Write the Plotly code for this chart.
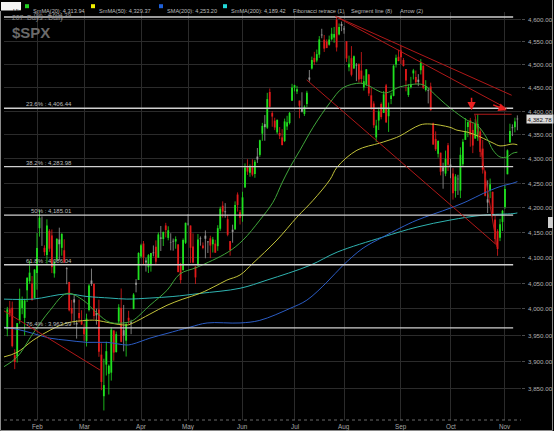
import math
import plotly.graph_objects as go

# ── data: $SPX daily, 207 sessions ─────────────────────────────────────────────
days = [
    "01-13", "01-17", "01-18", "01-19", "01-20", "01-23", "01-24", "01-25", "01-26", "01-27", "01-30", "01-31",
    "02-01", "02-02", "02-03", "02-06", "02-07", "02-08", "02-09", "02-10", "02-13", "02-14", "02-15", "02-16",
    "02-17", "02-21", "02-22", "02-23", "02-24", "02-27", "02-28",
    "03-01", "03-02", "03-03", "03-06", "03-07", "03-08", "03-09", "03-10", "03-13", "03-14", "03-15", "03-16",
    "03-17", "03-20", "03-21", "03-22", "03-23", "03-24", "03-27", "03-28", "03-29", "03-30", "03-31",
    "04-03", "04-04", "04-05", "04-06", "04-10", "04-11", "04-12", "04-13", "04-14", "04-17", "04-18", "04-19",
    "04-20", "04-21", "04-24", "04-25", "04-26", "04-27", "04-28",
    "05-01", "05-02", "05-03", "05-04", "05-05", "05-08", "05-09", "05-10", "05-11", "05-12", "05-15", "05-16",
    "05-17", "05-18", "05-19", "05-22", "05-23", "05-24", "05-25", "05-26", "05-30", "05-31",
    "06-01", "06-02", "06-05", "06-06", "06-07", "06-08", "06-09", "06-12", "06-13", "06-14", "06-15", "06-16",
    "06-20", "06-21", "06-22", "06-23", "06-26", "06-27", "06-28", "06-29", "06-30",
    "07-03", "07-05", "07-06", "07-07", "07-10", "07-11", "07-12", "07-13", "07-14", "07-17", "07-18", "07-19",
    "07-20", "07-21", "07-24", "07-25", "07-26", "07-27", "07-28", "07-31",
    "08-01", "08-02", "08-03", "08-04", "08-07", "08-08", "08-09", "08-10", "08-11", "08-14", "08-15", "08-16",
    "08-17", "08-18", "08-21", "08-22", "08-23", "08-24", "08-25", "08-28", "08-29", "08-30", "08-31",
    "09-01", "09-05", "09-06", "09-07", "09-08", "09-11", "09-12", "09-13", "09-14", "09-15", "09-18", "09-19",
    "09-20", "09-21", "09-22", "09-25", "09-26", "09-27", "09-28", "09-29",
    "10-02", "10-03", "10-04", "10-05", "10-06", "10-09", "10-10", "10-11", "10-12", "10-13", "10-16", "10-17",
    "10-18", "10-19", "10-20", "10-23", "10-24", "10-25", "10-26", "10-27", "10-30", "10-31",
    "11-01", "11-02", "11-03", "11-06", "11-07", "11-08",
]

opens = [
    3960.60, 3999.28, 4002.25, 3911.84, 3909.04, 3978.14, 4001.74, 3982.71, 4036.08, 4053.72, 4049.27, 4020.85,
    4070.07, 4158.68, 4136.69, 4119.57, 4105.35, 4153.47, 4144.25, 4068.92, 4096.62, 4126.70, 4119.50, 4114.75,
    4077.39, 4052.35, 4001.83, 4018.60, 3973.24, 3992.36, 3977.19,
    3963.34, 3938.68, 3998.02, 4055.15, 4048.26, 3987.55, 3998.66, 3912.77, 3835.12, 3894.01, 3876.74, 3878.93,
    3958.69, 3917.47, 3975.89, 4002.04, 3959.21, 3939.21, 3982.93, 3974.13, 3999.53, 4046.74, 4056.18,
    4102.20, 4128.03, 4094.50, 4081.15, 4085.20, 4110.29, 4121.72, 4100.04, 4140.11, 4137.17, 4164.26, 4139.33,
    4130.48, 4132.14, 4132.07, 4126.43, 4087.78, 4075.29, 4129.63,
    4166.79, 4164.10, 4122.25, 4082.61, 4084.73, 4136.98, 4124.25, 4143.74, 4132.24, 4138.54, 4126.65, 4127.95,
    4122.85, 4157.68, 4204.15, 4190.78, 4176.80, 4132.96, 4155.71, 4156.16, 4226.71, 4190.74,
    4183.03, 4241.01, 4282.99, 4271.34, 4285.47, 4268.69, 4304.88, 4308.32, 4352.61, 4366.29, 4365.33, 4440.95,
    4396.11, 4380.01, 4355.40, 4354.17, 4344.84, 4337.36, 4367.48, 4374.94, 4422.44,
    4450.48, 4442.04, 4422.62, 4404.54, 4394.23, 4415.55, 4467.69, 4491.50, 4514.61, 4508.86, 4521.78, 4563.87,
    4554.38, 4550.16, 4543.39, 4555.19, 4558.96, 4598.26, 4565.75, 4584.82,
    4578.83, 4550.93, 4494.27, 4513.96, 4491.58, 4498.03, 4501.57, 4487.16, 4450.69, 4458.13, 4478.87, 4433.79,
    4416.32, 4344.88, 4380.28, 4415.33, 4396.44, 4455.16, 4389.38, 4426.03, 4432.75, 4500.34, 4517.01,
    4530.60, 4510.06, 4490.35, 4434.55, 4451.30, 4480.98, 4473.27, 4462.65, 4487.78, 4497.98, 4445.13, 4445.41,
    4452.81, 4374.36, 4341.74, 4310.62, 4312.88, 4282.63, 4269.65, 4328.18,
    4284.52, 4269.75, 4233.83, 4259.31, 4234.79, 4289.02, 4339.75, 4366.59, 4380.94, 4360.49, 4342.37, 4345.23,
    4357.35, 4321.36, 4273.85, 4210.40, 4235.79, 4232.42, 4175.99, 4152.93, 4139.39, 4171.33,
    4201.27, 4268.26, 4334.23, 4364.27, 4366.21, 4384.37,
]

highs = [
    4003.95, 4015.39, 4014.16, 3922.94, 3972.96, 4039.31, 4023.92, 4019.55, 4061.57, 4094.21, 4063.85, 4077.16,
    4148.95, 4195.44, 4182.36, 4124.63, 4176.54, 4156.85, 4156.23, 4094.36, 4138.90, 4159.77, 4148.11, 4136.54,
    4081.51, 4052.35, 4017.37, 4028.30, 3978.25, 4018.05, 3997.50,
    3971.73, 3990.84, 4048.29, 4078.49, 4050.00, 4000.41, 4017.81, 3934.05, 3905.05, 3937.29, 3894.26, 3964.46,
    3958.91, 3956.62, 4009.08, 4039.49, 4007.66, 3972.74, 3996.32, 3979.20, 4030.59, 4057.85, 4110.75,
    4127.66, 4133.13, 4099.69, 4107.32, 4109.50, 4124.26, 4134.37, 4150.26, 4163.19, 4151.72, 4169.48, 4162.57,
    4148.57, 4138.02, 4142.41, 4126.43, 4089.67, 4138.24, 4170.06,
    4186.92, 4164.10, 4148.30, 4082.61, 4147.02, 4142.30, 4130.35, 4154.28, 4132.80, 4143.74, 4141.25, 4135.54,
    4164.67, 4202.20, 4212.91, 4209.22, 4185.68, 4132.96, 4165.74, 4212.87, 4231.10, 4195.44,
    4232.43, 4290.67, 4299.28, 4288.33, 4299.19, 4298.01, 4322.62, 4340.13, 4375.37, 4391.82, 4439.20, 4448.47,
    4400.15, 4386.22, 4382.25, 4366.55, 4362.06, 4384.42, 4390.35, 4398.39, 4458.48,
    4456.46, 4454.06, 4422.62, 4440.39, 4412.60, 4443.64, 4488.34, 4517.38, 4527.76, 4532.85, 4562.30, 4578.43,
    4564.74, 4555.00, 4563.41, 4580.62, 4582.47, 4607.07, 4590.16, 4594.22,
    4584.62, 4550.93, 4519.49, 4540.34, 4519.84, 4503.31, 4502.44, 4527.37, 4476.23, 4490.33, 4478.87, 4449.95,
    4421.17, 4381.82, 4407.55, 4418.59, 4443.18, 4458.30, 4418.46, 4439.56, 4500.14, 4521.65, 4532.26,
    4541.25, 4514.29, 4490.35, 4457.81, 4473.53, 4490.77, 4487.11, 4479.39, 4511.99, 4497.98, 4466.36, 4449.85,
    4461.03, 4375.70, 4357.40, 4338.51, 4313.01, 4292.07, 4317.27, 4333.15,
    4300.58, 4281.15, 4268.50, 4267.13, 4324.10, 4341.73, 4385.46, 4378.64, 4385.85, 4377.10, 4383.33, 4393.57,
    4364.20, 4339.54, 4276.56, 4255.84, 4259.38, 4232.42, 4183.60, 4156.70, 4177.47, 4195.55,
    4245.64, 4319.72, 4373.62, 4372.21, 4386.26, 4391.20,
]

lows = [
    3947.67, 3984.57, 3926.59, 3885.54, 3897.86, 3971.64, 3989.79, 3949.06, 4013.29, 4048.70, 4015.55, 4020.44,
    4037.20, 4141.88, 4123.36, 4103.98, 4088.39, 4111.67, 4069.67, 4060.79, 4092.67, 4095.01, 4103.98, 4089.49,
    4047.95, 3995.19, 3976.90, 3969.19, 3943.08, 3973.55, 3968.98,
    3939.05, 3928.16, 3995.17, 4044.61, 3980.31, 3969.76, 3908.70, 3846.32, 3808.86, 3873.63, 3838.24, 3864.11,
    3901.27, 3916.89, 3971.19, 3936.17, 3919.05, 3909.16, 3970.80, 3951.53, 3999.53, 4032.10, 4056.18,
    4098.79, 4086.87, 4072.56, 4069.84, 4072.55, 4102.61, 4086.94, 4099.40, 4113.20, 4123.18, 4140.36, 4134.49,
    4114.57, 4113.86, 4117.77, 4071.38, 4049.35, 4075.29, 4127.18,
    4164.12, 4089.72, 4088.86, 4048.28, 4084.73, 4123.81, 4116.65, 4098.92, 4109.29, 4099.12, 4110.27, 4109.86,
    4113.62, 4153.50, 4180.20, 4179.68, 4142.54, 4103.98, 4129.73, 4156.16, 4192.18, 4166.15,
    4171.64, 4241.01, 4266.82, 4263.09, 4263.96, 4261.07, 4291.70, 4304.37, 4337.66, 4337.85, 4362.60, 4407.44,
    4367.19, 4360.14, 4351.82, 4341.34, 4328.08, 4335.00, 4360.22, 4371.97, 4422.44,
    4442.29, 4436.61, 4385.05, 4397.40, 4389.92, 4408.46, 4463.23, 4489.36, 4499.56, 4504.90, 4514.59, 4557.48,
    4527.56, 4535.79, 4541.29, 4552.42, 4547.58, 4528.56, 4564.01, 4573.14,
    4567.53, 4505.75, 4485.54, 4474.55, 4491.15, 4464.39, 4461.33, 4457.92, 4443.98, 4453.44, 4432.19, 4403.55,
    4364.83, 4335.31, 4360.30, 4382.77, 4396.44, 4375.55, 4356.29, 4414.98, 4431.68, 4493.59, 4507.39,
    4501.35, 4496.01, 4442.38, 4430.46, 4448.38, 4467.89, 4456.83, 4453.52, 4478.69, 4447.21, 4442.11, 4416.61,
    4401.38, 4329.17, 4316.49, 4302.70, 4265.98, 4238.63, 4264.38, 4274.86,
    4260.21, 4216.45, 4220.48, 4225.91, 4219.55, 4283.79, 4339.64, 4345.34, 4325.43, 4311.97, 4342.37, 4337.54,
    4303.84, 4269.69, 4223.03, 4189.22, 4219.43, 4181.42, 4127.90, 4103.78, 4132.94, 4153.12,
    4197.74, 4268.26, 4334.23, 4347.53, 4355.41, 4359.76,
]

closes = [
    3999.09, 3990.97, 3928.86, 3898.85, 3972.61, 4019.81, 4016.95, 4016.22, 4060.43, 4070.56, 4017.77, 4076.60,
    4119.21, 4179.76, 4136.48, 4111.08, 4164.00, 4117.86, 4081.50, 4090.46, 4137.29, 4136.13, 4147.60, 4090.41,
    4079.09, 3997.34, 3991.05, 4012.32, 3970.04, 3982.24, 3970.15,
    3951.39, 3981.35, 4045.64, 4048.42, 3986.37, 3992.01, 3918.32, 3861.59, 3855.76, 3919.29, 3891.93, 3960.28,
    3916.64, 3951.57, 4002.87, 3936.97, 3948.72, 3970.99, 3977.53, 3971.27, 4027.81, 4050.83, 4109.31,
    4124.51, 4100.60, 4090.38, 4105.02, 4109.11, 4108.94, 4091.95, 4146.22, 4137.64, 4151.32, 4154.87, 4154.52,
    4129.79, 4133.52, 4137.04, 4071.63, 4055.99, 4135.35, 4169.48,
    4167.87, 4119.58, 4090.75, 4061.22, 4136.25, 4138.12, 4119.17, 4137.64, 4130.62, 4124.08, 4136.28, 4109.90,
    4158.77, 4198.05, 4191.98, 4192.63, 4145.58, 4115.24, 4151.28, 4205.45, 4205.52, 4179.83,
    4221.02, 4282.37, 4273.79, 4283.85, 4267.52, 4293.93, 4298.86, 4338.93, 4369.01, 4372.59, 4425.84, 4409.59,
    4388.71, 4365.69, 4381.89, 4348.33, 4328.82, 4378.41, 4376.86, 4396.44, 4450.38,
    4455.59, 4446.82, 4411.59, 4398.95, 4409.53, 4439.26, 4472.16, 4510.04, 4505.42, 4522.79, 4554.98, 4565.72,
    4534.87, 4536.34, 4554.64, 4567.46, 4566.75, 4537.41, 4582.23, 4588.96,
    4576.73, 4513.39, 4501.89, 4478.03, 4518.44, 4499.38, 4467.71, 4468.83, 4464.05, 4489.72, 4437.86, 4404.33,
    4370.36, 4369.71, 4399.77, 4387.55, 4436.01, 4376.31, 4405.71, 4433.31, 4497.63, 4514.87, 4507.66,
    4515.77, 4496.83, 4465.48, 4451.14, 4457.49, 4487.46, 4461.90, 4467.44, 4505.10, 4450.32, 4453.53, 4443.95,
    4402.20, 4330.00, 4320.06, 4337.44, 4273.53, 4274.51, 4299.70, 4288.05,
    4288.39, 4229.45, 4263.75, 4258.19, 4308.50, 4335.66, 4358.24, 4376.95, 4349.61, 4327.78, 4373.63, 4373.20,
    4314.60, 4278.00, 4224.16, 4217.04, 4247.68, 4186.77, 4137.23, 4117.37, 4166.82, 4193.80,
    4237.86, 4317.78, 4358.34, 4365.98, 4378.38, 4382.78,
]

month_labels = {"02": "Feb", "03": "Mar", "04": "Apr", "05": "May", "06": "Jun",
                "07": "Jul", "08": "Aug", "09": "Sep", "10": "Oct", "11": "Nov"}

# moving averages (bar index, value)
smma20_x = [-1.7, 3.9, 10.4, 17.2, 24.1, 30.6, 36.2, 41.5, 48.3, 50.8, 57.6, 64.5, 69.7, 76.6, 89.1, 95.2,
            102.0, 107.3, 110.9, 114.2, 118.2, 123.5, 130.3, 135.6, 142.5, 145.3, 152.5, 158.6, 166.7, 169.5,
            172.0, 178.8, 185.7, 189.7, 193.7, 196.2, 199.0, 201.8, 204.2, 206.0]
smma20_y = [3889, 3908, 3953, 3997, 4030, 4017, 3992, 3974, 3974, 3978, 4007, 4036, 4068, 4081, 4111, 4135,
            4175, 4211, 4250, 4283, 4318, 4366, 4418, 4450, 4460, 4456, 4439, 4452, 4458, 4452,
            4439, 4407, 4381, 4371, 4343, 4318, 4304, 4304, 4312, 4313.94]

smma50_x = [-1.7, 3.9, 10.4, 17.2, 24.1, 32.2, 36.2, 41.5, 48.3, 50.8, 57.6, 64.5, 70.9, 77.8, 84.7, 88.7,
            94.0, 99.2, 108.9, 117.0, 123.5, 130.3, 133.2, 141.2, 150.5, 155.8, 158.6, 166.7, 170.7, 178.8,
            181.6, 185.7, 190.9, 196.2, 199.0, 204.2, 206.0]
smma50_y = [3908, 3917, 3940, 3959, 3973, 3978, 3978, 3973, 3969, 3973, 3990, 4007, 4019, 4030, 4046, 4056,
            4066, 4089, 4135, 4181, 4215, 4257, 4283, 4318, 4333, 4342, 4348, 4371, 4373, 4366,
            4360, 4356, 4346, 4333, 4327, 4331, 4329.37]

sma200_x = [-1.7, 3.9, 10.4, 17.2, 24.1, 32.2, 40.3, 48.3, 50.8, 57.6, 64.5, 73.8, 80.7, 94.0, 102.0, 114.2,
            121.0, 129.1, 135.6, 143.7, 151.7, 158.6, 165.5, 178.8, 185.7, 192.2, 199.0, 204.2, 206.0]
sma200_y = [3965, 3961, 3953, 3944, 3940, 3936, 3936, 3931, 3933, 3944, 3953, 3965, 3973, 3973, 3978, 4001,
            4017, 4052, 4085, 4119, 4141, 4159, 4175, 4199, 4213, 4229, 4243, 4250, 4253.20]

smma200_x = [-1.7, 10.4, 24.1, 32.2, 41.5, 48.3, 57.6, 66.9, 77.8, 94.0, 104.9, 122.3, 133.2, 151.7, 165.5,
             178.8, 192.2, 204.2, 206.0]
smma200_y = [4019, 4019, 4029, 4024, 4021, 4019, 4021, 4024, 4030, 4040, 4056, 4085, 4111, 4141, 4161,
             4175, 4185, 4188, 4189.42]

fib_pct = ["0%", "23.6%", "38.2%", "50%", "61.8%", "76.4%"]
fib_val = [4604.39, 4406.44, 4283.98, 4185.01, 4086.04, 3963.59]

# segment lines: start/end (bar index, price)
seg_x0 = [132.5, 133.5, 120.9, 188.9, 188.5, -1.6]
seg_y0 = [4606, 4603, 4467, 4392, 4393.57, 3997]
seg_x1 = [203.7, 201.7, 197.7, 197.8, 203.7, 37.4]
seg_y1 = [4434, 4406, 4125, 4121, 4393.57, 3884]

# arrows: head position (bar index, price) and tail offset in px
arrow_x = [187.5, 201.7]
arrow_y = [4402, 4402]
arrow_dx = [0, -15]
arrow_dy = [-14, -6]

ma_names = ["SmMA(20)", "SmMA(50)", "SMA(200)", "SmMA(200)"]
ma_last = [4313.94, 4329.37, 4253.20, 4189.42]
tool_names = ["Fibonacci retrace (1)", "Segment line (8)", "Arrow (2)"]

# ── geometry (pixels of the 554x431 window) ───────────────────────────────────
W, H = 554, 431
PL, PR, PT, PB = 4, 521, 12, 420
X0PIX, DXPIX = 7.3, 2.476
x_range = [(PL - X0PIX) / DXPIX, (PR - X0PIX) / DXPIX]
y_range = [math.log10(3791.4), math.log10(4615.6)]


def pxp(x):
    return (x - PL) / (PR - PL)


def pyp(y):
    return (PB - y) / (PB - PT)


FONT = "Liberation Sans"
GREEN, RED, GREY = "#1fe01f", "#e01a1a", "#9a9a9a"

fig = go.Figure()

# ── candles ───────────────────────────────────────────────────────────────────
groups = {GREEN: [[], [], [], []], RED: [[], [], [], []], GREY: [[], [], [], []]}
for i, (o, h, l, c) in enumerate(zip(opens, highs, lows, closes)):
    if abs(c - o) < 0.2 * (h - l):
        col = GREY
    elif c > o:
        col = GREEN
    else:
        col = RED
    g = groups[col]
    g[0] += [i, i, None]
    g[1] += [l, h, None]
    g[2] += [i, i, None]
    g[3] += [o, c, None]

for col, g in groups.items():
    fig.add_trace(go.Scatter(x=g[0], y=g[1], mode="lines", line=dict(color=col, width=0.8),
                             hoverinfo="skip"))
    fig.add_trace(go.Scatter(x=g[2], y=g[3], mode="lines", line=dict(color=col, width=1.8),
                             hoverinfo="skip"))

# ── moving averages ───────────────────────────────────────────────────────────
for xs, ys, col in [(smma200_x, smma200_y, "#2fb3b0"), (sma200_x, sma200_y, "#2b5cc4"),
                    (smma50_x, smma50_y, "#c2c23a"), (smma20_x, smma20_y, "#3fa53a")]:
    fig.add_trace(go.Scatter(x=xs, y=ys, mode="lines", line=dict(color=col, width=1, shape="spline"),
                             hoverinfo="skip"))

# ── fibonacci retrace ─────────────────────────────────────────────────────────
for pct, v in zip(fib_pct, fib_val):
    fig.add_trace(go.Scatter(x=[x_range[0], 204.3], y=[v, v], mode="lines",
                             line=dict(color="#cfcfcf", width=1.4), hoverinfo="skip"))
    fig.add_annotation(x=26.9, y=math.log10(v), xref="x", yref="y", xanchor="right", yanchor="bottom",
                       text=f"{pct} : {v:,.2f}", showarrow=False, yshift=-3 if pct == "0%" else -1,
                       font=dict(family=FONT, size=6, color="#9a9a9a" if pct == "0%" else "#bdbdbd"))

# ── segment lines and arrows ──────────────────────────────────────────────────
for x0, y0, x1, y1 in zip(seg_x0, seg_y0, seg_x1, seg_y1):
    fig.add_trace(go.Scatter(x=[x0, x1], y=[y0, y1], mode="lines",
                             line=dict(color="#b01818", width=1), hoverinfo="skip"))
for ax_, ay_, dx, dy in zip(arrow_x, arrow_y, arrow_dx, arrow_dy):
    fig.add_annotation(x=ax_, y=math.log10(ay_), xref="x", yref="y", ax=dx, ay=dy, text="",
                       showarrow=True, arrowhead=2, arrowsize=1.1, arrowwidth=1.5, arrowcolor="#e82020")

# ── right price scale and month labels (as text, to sit exactly in the strip) ─
y_ticks = list(range(3850, 4601, 50))
for v in y_ticks:
    fig.add_annotation(x=pxp(526), y=math.log10(v), xref="paper", yref="y", xanchor="left",
                       yanchor="middle", text=f"{v:,.2f}", showarrow=False,
                       font=dict(family=FONT, size=6.2, color="#b0b0b0"))

month_idx, month_txt = [], []
for i, d in enumerate(days):
    m = d[:2]
    if m in month_labels and (i == 0 or days[i - 1][:2] != m):
        month_idx.append(i)
        month_txt.append(month_labels[m])
for i, t in zip(month_idx, month_txt):
    fig.add_annotation(x=i, y=pyp(426.5), xref="x", yref="paper", yanchor="middle", text=t,
                       showarrow=False, font=dict(family=FONT, size=6.3, color="#a8a8a8"))

# ── last price tag ────────────────────────────────────────────────────────────
fig.add_annotation(x=pxp(526), y=math.log10(closes[-1]), xref="paper", yref="y", xanchor="left",
                   text=f"{closes[-1]:,.2f}", showarrow=False, bgcolor="#dcdcdc", borderpad=0.5,
                   font=dict(family=FONT, size=6.2, color="#111111"))

# ── header texts ──────────────────────────────────────────────────────────────
fig.add_annotation(x=pxp(10), y=pyp(32), xref="paper", yref="paper", xanchor="left", yanchor="middle",
                   text="<b>$SPX</b>", showarrow=False, font=dict(family=FONT, size=15, color="#6a6a6a"))
fig.add_annotation(x=pxp(10), y=pyp(18), xref="paper", yref="paper", xanchor="left", yanchor="middle",
                   text="207  Days : Daily", showarrow=False, font=dict(family=FONT, size=6.8, color="#8a8a8a"))

shapes = []
# Hide box
shapes.append(dict(type="rect", xref="paper", yref="paper", x0=pxp(1), x1=pxp(21), y0=pyp(10.5), y1=pyp(2),
                   fillcolor="#f4f4f4", line=dict(width=0)))
fig.add_annotation(x=pxp(11), y=pyp(6.3), xref="paper", yref="paper", text="Hide:", showarrow=False,
                   font=dict(family=FONT, size=6, color="#000000"))

legend_sq_x = [25, 91, 159, 223]
legend_sq_col = ["#22d022", "#f0f000", "#1e60d8", "#22d8d8"]
for sx, col, name, last in zip(legend_sq_x, legend_sq_col, ma_names, ma_last):
    shapes.append(dict(type="rect", xref="paper", yref="paper", x0=pxp(sx), x1=pxp(sx + 4),
                       y0=pyp(8.2), y1=pyp(4.2), fillcolor=col, line=dict(width=0)))
    fig.add_annotation(x=pxp(sx + 6), y=pyp(6.3), xref="paper", yref="paper", xanchor="left",
                       text=f"{name}: {last:,.2f}", showarrow=False,
                       font=dict(family=FONT, size=5.6, color="#bdbdbd"))
for tx, name in zip([291, 349, 398], tool_names):
    fig.add_annotation(x=pxp(tx), y=pyp(6.3), xref="paper", yref="paper", xanchor="left",
                       text=name, showarrow=False, font=dict(family=FONT, size=5.6, color="#bdbdbd"))

# dotted x-axis line, frame, side tab
shapes.append(dict(type="line", xref="paper", yref="paper", x0=0, x1=1, y0=0, y1=0,
                   line=dict(color="#6a6a6a", width=1, dash="dot")))
shapes.append(dict(type="path", xref="paper", yref="paper",
                   path=f"M {pxp(0.5)},{pyp(11)} L {pxp(0.5)},{pyp(430.5)} L {pxp(552.5)},{pyp(430.5)} "
                        f"L {pxp(552.5)},{pyp(0)}",
                   line=dict(color="#8a8a8a", width=1)))
shapes.append(dict(type="rect", xref="paper", yref="paper", x0=pxp(548), x1=pxp(553), y0=pyp(228),
                   y1=pyp(217), fillcolor="#cfcfcf", line=dict(width=0)))

# ── axes ──────────────────────────────────────────────────────────────────────
fig.update_layout(
    width=W, height=H,
    margin=dict(l=PL, r=W - PR, t=PT, b=H - PB, pad=0),
    paper_bgcolor="#000000", plot_bgcolor="#000000",
    showlegend=False,
    shapes=shapes,
    font=dict(family=FONT),
    xaxis=dict(range=x_range, tickmode="array", tickvals=month_idx, showticklabels=False,
               showgrid=True, gridcolor="#2b2b2b", gridwidth=1, zeroline=False, showline=False,
               ticks="", fixedrange=True),
    yaxis=dict(type="log", range=y_range, side="right", tickmode="array", tickvals=y_ticks,
               showticklabels=False, showgrid=True, gridcolor="#2b2b2b", gridwidth=1,
               zeroline=False, showline=False, ticks="outside", ticklen=3, tickcolor="#4a4a4a",
               fixedrange=True),
)

fig.write_html("out.html", config={"displayModeBar": False},
               post_script="document.body.style.margin='0px';")
